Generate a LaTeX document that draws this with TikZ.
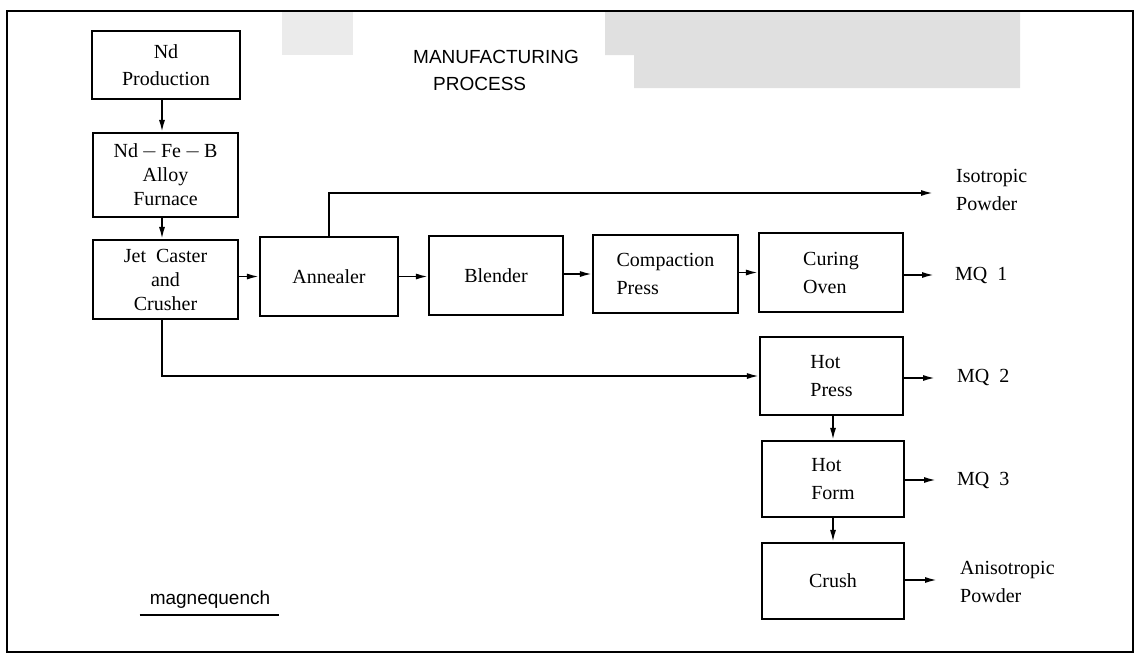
\documentclass[tikz,border=0pt]{standalone}
\usepackage{fontspec}
\setmainfont{Liberation Serif}
\newfontfamily\titlefont{Liberation Sans}
\usetikzlibrary{arrows.meta}
\begin{document}
\begin{tikzpicture}[x=1pt,y=-1pt,
  box/.style={draw,line width=2.1pt,inner sep=0pt,align=center,font=\fontsize{20}{24}\selectfont},
  lbox/.style={box,align=left,font=\fontsize{20}{28}\selectfont},
  lbl/.style={anchor=west,inner sep=0pt,align=left,font=\fontsize{20}{28}\selectfont},
  arr/.style={line width=1.7pt,-{Latex[length=12pt,width=6pt]}}
]
\useasboundingbox (0,0) rectangle (1141,657);
% scan shading
\fill[gray!24] (605,11) -- (1020,11) -- (1020,88) -- (634,88) -- (634,55) -- (605,55) -- cycle;
\fill[gray!16] (282,11) rectangle (353,55);
% frame
\draw[line width=2.3pt] (7,11) rectangle (1133,652);
% title
\node[anchor=west,inner sep=0pt,align=left,font=\titlefont\fontsize{19}{27}\selectfont] (title) at (413,70) {MANUFACTURING\\\hspace*{20pt}PROCESS};
% boxes
\node[box,minimum width=148,minimum height=68,font=\fontsize{20}{27}\selectfont] (nd) at (166,65) {Nd\\Production};
\node[box,minimum width=145,minimum height=84] (alloy) at (165.5,175) {Nd$\,-\,$Fe$\,-\,$B\\Alloy\\Furnace};
\node[box,minimum width=145,minimum height=79] (jet) at (165.5,279.5) {Jet\ \ Caster\\and\\Crusher};
\node[box,minimum width=138,minimum height=79] (anneal) at (329,276.5) {Annealer};
\node[box,minimum width=134,minimum height=79] (blend) at (496,275.5) {Blender};
\node[lbox,minimum width=145,minimum height=78] (compact) at (665.5,274) {Compaction\\Press};
\node[lbox,minimum width=144,minimum height=79] (cure) at (831,272.5) {Curing\\Oven};
\node[lbox,minimum width=143,minimum height=78] (hotpress) at (831.5,376) {Hot\\Press};
\node[lbox,minimum width=142,minimum height=76] (hotform) at (833,479) {Hot\\Form};
\node[box,minimum width=142,minimum height=76] (crush) at (833,581) {Crush};
% output labels
\node[lbl] (iso) at (956,190) {Isotropic\\Powder};
\node[lbl] (mq1) at (955,275) {MQ\ \ 1};
\node[lbl] (mq2) at (957,377) {MQ\ \ 2};
\node[lbl] (mq3) at (957,480) {MQ\ \ 3};
\node[lbl] (aniso) at (960,582) {Anisotropic\\Powder};
\node[anchor=south,inner sep=0pt,font=\titlefont\fontsize{19}{22}\selectfont] (mag) at (210,609) {magnequench};
\draw[line width=1.4pt] (mag.south west) ++(-10,6) coordinate (ul1) -- ++(139,0) coordinate (ul2);
% arrow ends
\coordinate (isoend) at (933,193);
\coordinate (mq1end) at (934,275);
\coordinate (mq2end) at (935,378);
\coordinate (mq3end) at (936,480);
\coordinate (anisoend) at (937,580);
% connectors
\draw[arr] (nd.south -| 162,0) -- (alloy.north -| 162,0);
\draw[arr] (alloy.south -| 162,0) -- (jet.north -| 162,0);
\draw[arr] (jet.east |- anneal.west) -- (anneal.west);
\draw[arr] (anneal.east) -- (blend.west |- anneal.east);
\draw[arr] (blend.east |- compact.west) -- (compact.west);
\draw[arr] (compact.east |- cure.west) -- (cure.west);
\draw[arr] (anneal.north) |- (isoend);
\draw[arr] (cure.east |- mq1end) -- (mq1end);
\draw[arr] (jet.south -| 162,0) |- (hotpress.west);
\draw[arr] (hotpress.east |- mq2end) -- (mq2end);
\draw[arr] (hotform.north |- hotpress.south) -- (hotform.north);
\draw[arr] (hotform.east |- mq3end) -- (mq3end);
\draw[arr] (hotform.south) -- (crush.north);
\draw[arr] (crush.east |- anisoend) -- (anisoend);
\end{tikzpicture}
\end{document}
